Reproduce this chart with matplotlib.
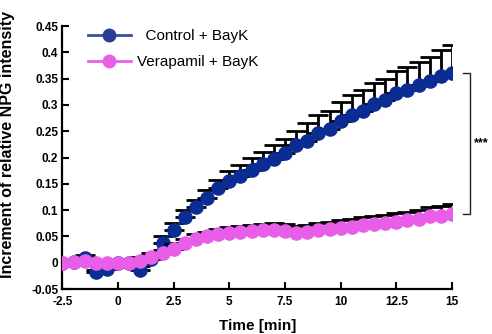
import numpy as np
import matplotlib
matplotlib.use("Agg")
import matplotlib.pyplot as plt

# time points (min), one every 0.5 min
time_min = np.arange(-2.5, 15.01, 0.5)

control = [0.000, 0.002, 0.009, -0.018, -0.012, 0.000, 0.000, -0.013, 0.008, 0.038,
           0.063, 0.086, 0.106, 0.123, 0.142, 0.155, 0.164, 0.177, 0.187, 0.198,
           0.208, 0.224, 0.232, 0.246, 0.255, 0.270, 0.281, 0.289, 0.302, 0.309,
           0.323, 0.328, 0.337, 0.345, 0.355, 0.360]
control_err = [0.004, 0.004, 0.005, 0.005, 0.005, 0.004, 0.005, 0.006, 0.010, 0.012,
               0.012, 0.015, 0.013, 0.015, 0.015, 0.019, 0.022, 0.022, 0.023, 0.025,
               0.027, 0.027, 0.033, 0.034, 0.034, 0.035, 0.038, 0.039, 0.039, 0.041,
               0.041, 0.045, 0.045, 0.047, 0.050, 0.053]

verapamil = [0.000, 0.002, 0.003, 0.000, 0.000, 0.000, 0.000, 0.004, 0.010, 0.018,
             0.027, 0.037, 0.045, 0.050, 0.054, 0.057, 0.059, 0.060, 0.063, 0.063,
             0.060, 0.056, 0.058, 0.062, 0.064, 0.066, 0.068, 0.071, 0.073, 0.075,
             0.078, 0.081, 0.083, 0.088, 0.089, 0.093]
verapamil_err = [0.003, 0.003, 0.003, 0.003, 0.003, 0.004, 0.005, 0.006, 0.006, 0.007,
                 0.008, 0.008, 0.009, 0.009, 0.010, 0.010, 0.011, 0.011, 0.011, 0.012,
                 0.013, 0.014, 0.014, 0.014, 0.014, 0.015, 0.015, 0.015, 0.016, 0.016,
                 0.016, 0.016, 0.017, 0.017, 0.018, 0.018]

xticks = [-2.5, 0, 2.5, 5, 7.5, 10, 12.5, 15]
xticklabels = ["-2.5", "0", "2.5", "5", "7.5", "10", "12.5", "15"]
yticks = [-0.05, 0, 0.05, 0.1, 0.15, 0.2, 0.25, 0.3, 0.35, 0.4, 0.45]
yticklabels = ["-0.05", "0", "0.05", "0.1", "0.15", "0.2", "0.25", "0.3", "0.35", "0.4", "0.45"]

blue = "#0b2c92"
pink = "#e85ee8"

plt.rcParams['font.family'] = ['Liberation Sans', 'DejaVu Sans']

fig = plt.figure(figsize=(4.92, 3.34), dpi=100)
ax = fig.add_axes([0.1268, 0.1347, 0.7919, 0.7874])

n = len(time_min)
ax.errorbar(time_min, control, yerr=[np.zeros(n), control_err], fmt="none",
            ecolor="black", elinewidth=2, capsize=7.5, capthick=2, zorder=2)
ax.plot(time_min, control, "-o", color=blue, ms=9.5, lw=1.5, zorder=3)
ax.errorbar(time_min, verapamil, yerr=[np.zeros(n), verapamil_err], fmt="none",
            ecolor="black", elinewidth=2, capsize=7.5, capthick=2, zorder=4)
ax.plot(time_min, verapamil, "-o", color=pink, ms=9.5, lw=1.5, zorder=5)

# legend handles
h1, = ax.plot([], [], "-o", color="#3a4ca6", mfc="#2a3b98", mec="#2a3b98", ms=9, lw=2)
h2, = ax.plot([], [], "-o", color="#e860e8", ms=9, lw=2)
ax.legend([h1, h2], ["  Control + BayK", "Verapamil + BayK"], loc="upper left",
          bbox_to_anchor=(0.03, 1.04), frameon=False, fontsize=11,
          handlelength=2.8, handletextpad=0.4, labelspacing=0.8)

ax.set_xlim(-2.5, 15)
ax.set_ylim(-0.05, 0.45)
ax.set_xticks(xticks)
ax.set_xticklabels(xticklabels)
ax.set_yticks(yticks)
ax.set_yticklabels(yticklabels)
for lab in ax.get_xticklabels() + ax.get_yticklabels():
    lab.set_fontweight("bold")
    lab.set_fontsize(8.5)
ax.tick_params(direction="in", length=5, width=1.5, pad=3)
ax.tick_params(axis="x", pad=5)

for side in ["top", "right"]:
    ax.spines[side].set_visible(False)
for side in ["left", "bottom"]:
    ax.spines[side].set_linewidth(1.6)

ax.set_xlabel("Time [min]", fontsize=11, fontweight="bold", labelpad=8)
ax.set_ylabel("Increment of relative NPG intensity", fontsize=11.5, fontweight="bold")
ax.yaxis.set_label_coords(-0.122, 0.548)

# significance bracket between the final points
xb0, xb1 = 15.5, 15.82
ax.plot([xb0, xb1, xb1, xb0], [control[-1], control[-1], verapamil[-1], verapamil[-1]],
        color="#222222", lw=1, clip_on=False)
ax.text(xb1 + 0.15, (control[-1] + verapamil[-1]) / 2, "***", fontsize=9,
        fontweight="bold", va="center", ha="left", clip_on=False)

fig.savefig("out.png", dpi=100)
